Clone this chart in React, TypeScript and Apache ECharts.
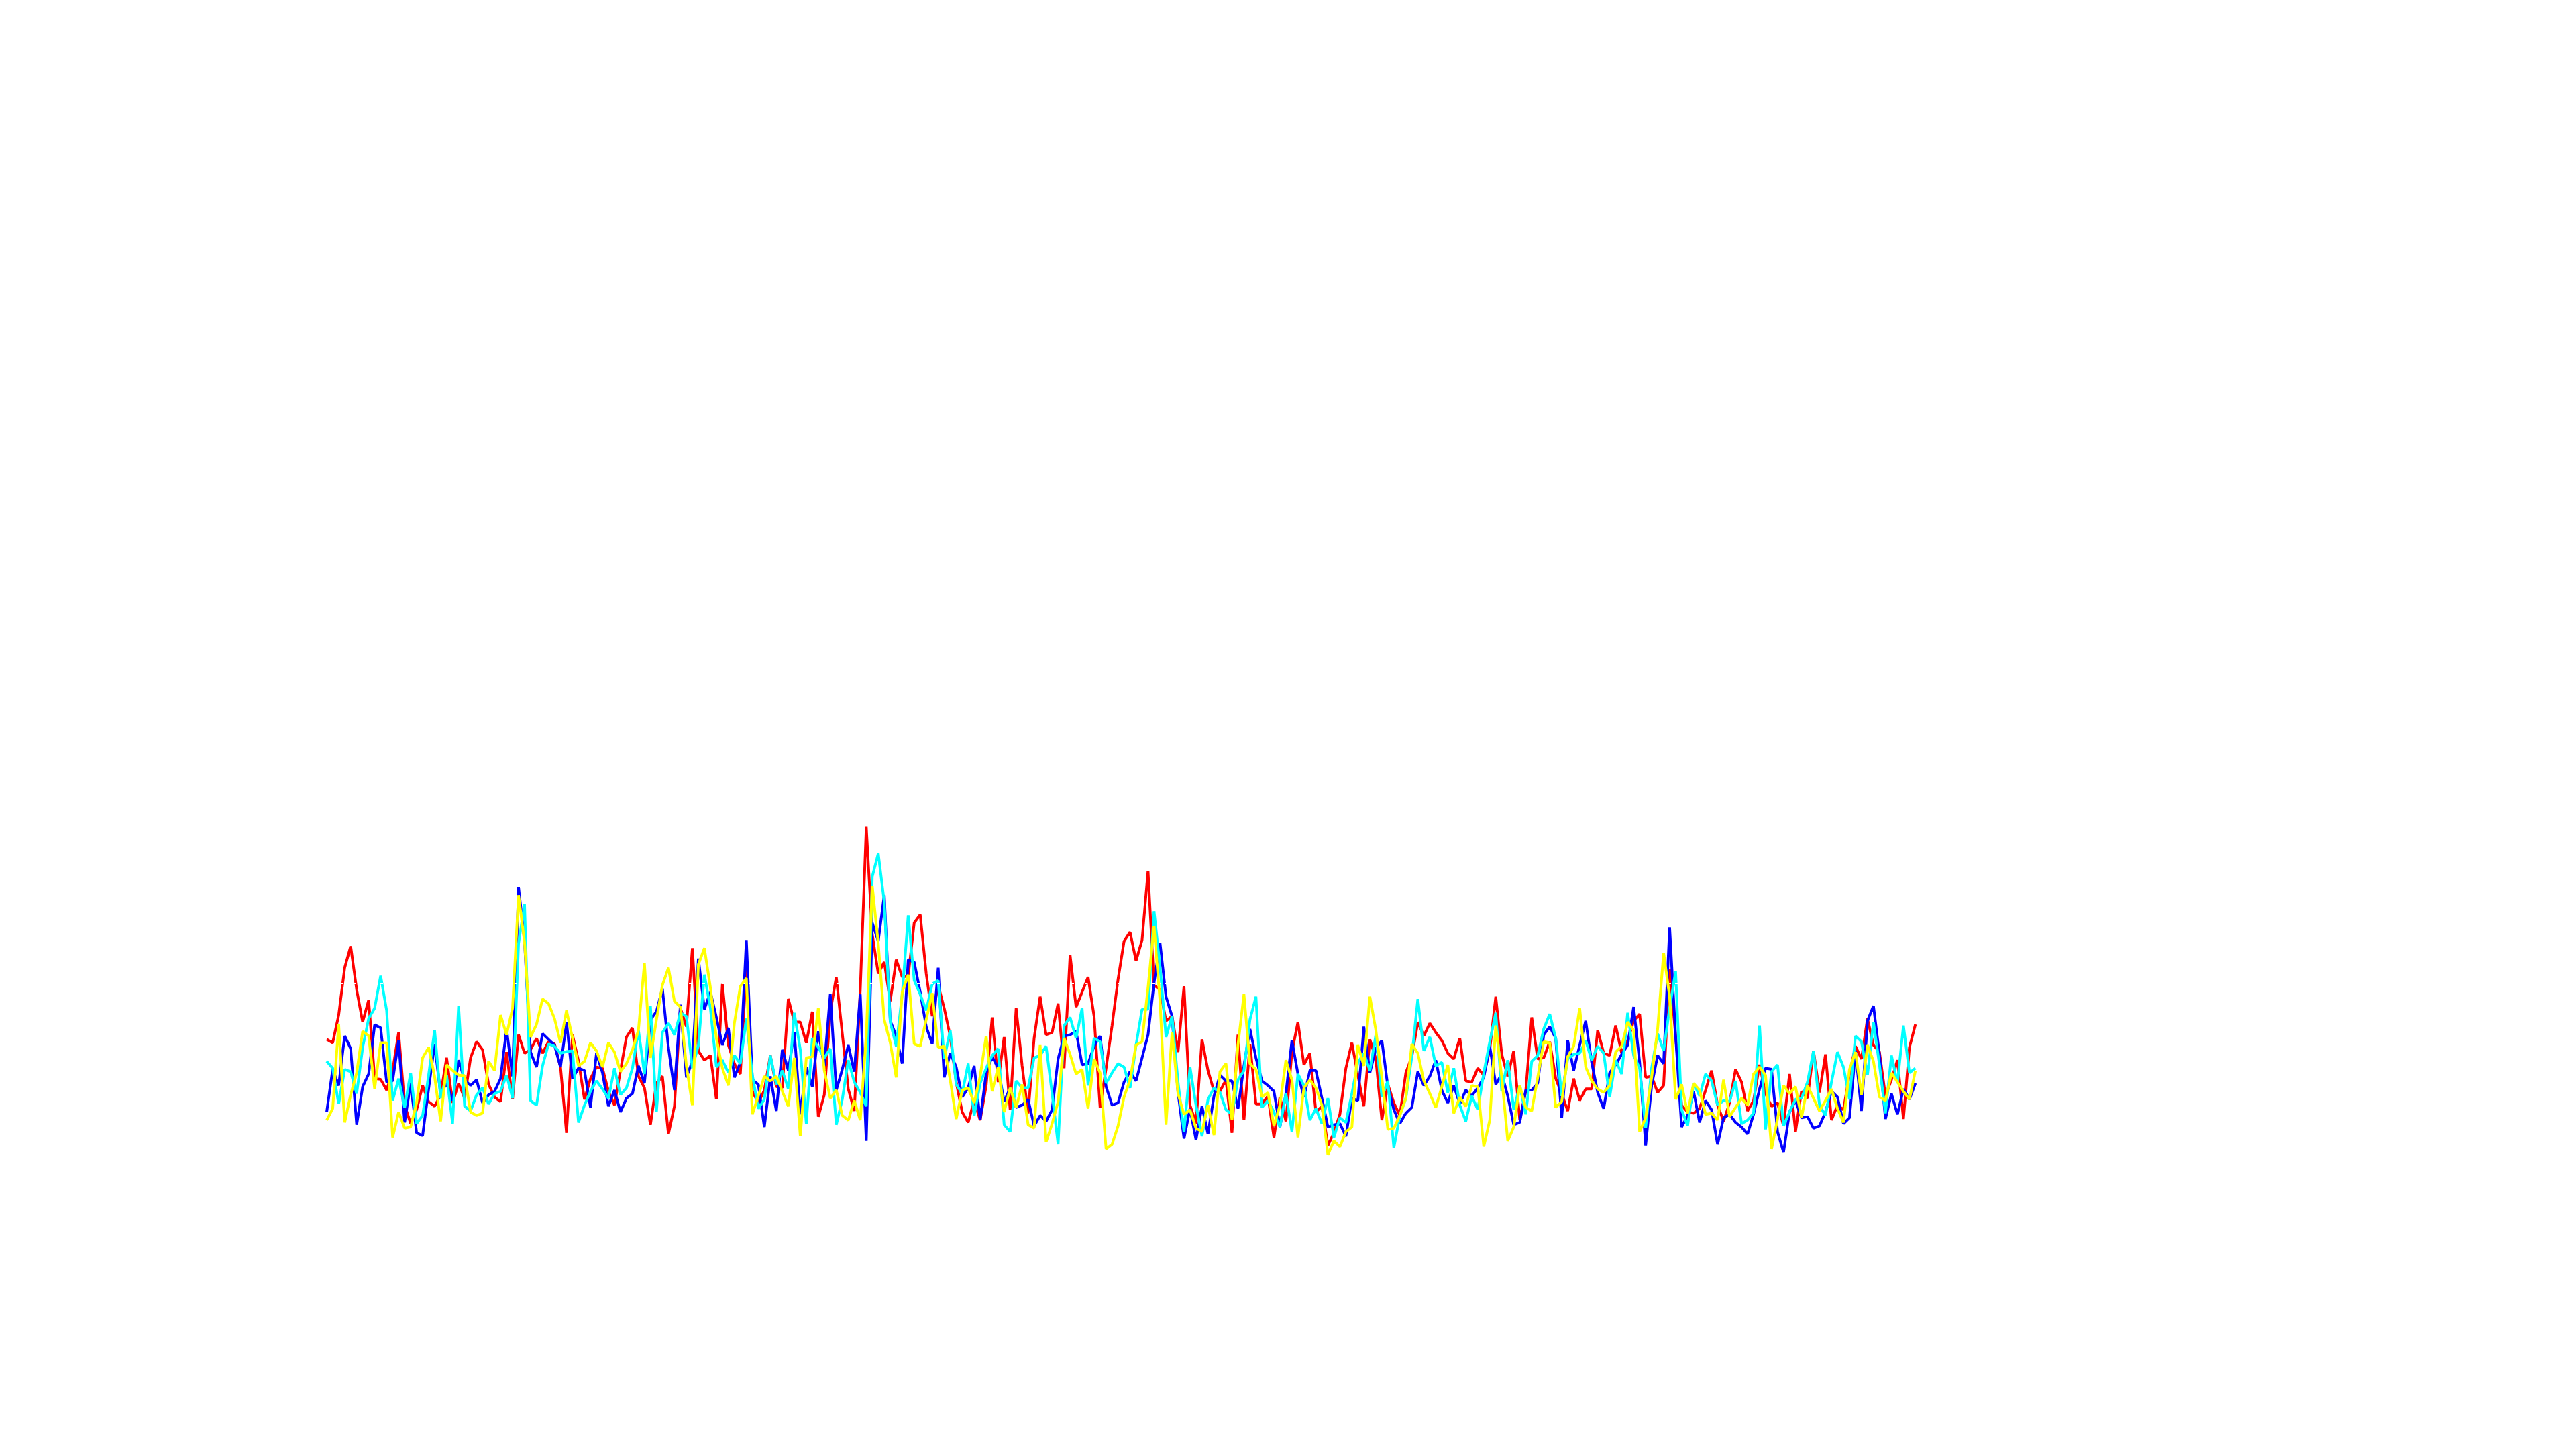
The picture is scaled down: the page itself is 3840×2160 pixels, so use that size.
import React, { useEffect, useRef } from "react";
import * as echarts from "echarts";

const red = [63.5,62,74,94.5,103.8,85,71,80.5,46.5,46.2,
41.5,50,66.5,35,27,33,43.5,36.5,34.5,39.5,
55.5,36,44.5,38,55.5,62.5,59,44,38.5,36.5,
58,37.5,65.5,57.5,59,64,57.5,62.5,61.5,51.5,
23,65.5,54,37.5,46.5,51.5,51,41,35,50,
64.5,68.5,47.5,42.5,26.5,44.5,47.5,22.5,34.5,77,
69,103,58.5,54.5,56.5,37.5,87.5,61,53,48.5,
95,41,36,41.5,56.5,43,42.5,81,71,71,
62,75.5,30,39.5,75.5,90.5,66,42,32.5,85,
155.5,109,92,97,80,98,90.5,91,114,117.5,
92,73.5,87,77,65,45,32,27.5,37,28.5,
43.5,73,45,64.5,33,77,52,31.5,64,82,
65.5,66.5,79,51,100,77.5,84,90.5,73.5,34,
51,69.5,89.5,106,110,97.5,106.5,136.5,87,85,
71.5,73.5,58,86.5,35,27,63.5,50,41,41,
46,23,65.5,28.5,61.5,35.5,35.5,39,21,38.5,
28,58,71,52.5,57.5,32,34.5,17.5,23,31,
51,62,48,34.5,63.5,55,28.5,44,36,30.5,
49,56,71,65,70.5,66.5,63,57.5,55,64,
45.5,45,51,48,59,82,57,47.5,58.5,28.5,
41,73,55,55.5,62.5,46.5,40,32.5,46.5,37,
42,42,67.5,57.5,56.5,69.5,57.5,63,71.5,74.5,
47,47.5,40.5,43.5,94,65,35,32,31.5,33.5,
41.5,50,35,28,36,50.5,45,32.5,37,52.5,
40,34.5,36,26,48.5,23.5,41,38,58.5,40.5,
57,28.5,35,33,48.5,60.5,55,72.5,61,58,
39,46,54.5,29,60,70];

const blue = [32,50.5,43.5,65,59.5,26.5,43,48.5,69.8,68.5,
45,45.5,63,27.5,44.5,23,21.8,42,61.5,40,
44.5,37,54.5,46,43.5,46,36,39.5,41,46.5,
68,47.5,129.5,106,58,51.5,66,63.5,61,51.5,
71,46.5,51,50,34,57.5,49,34.5,41.5,32,
38,40,52,44.5,72,75.5,85.5,60,41.5,78.5,
47,54,98.5,76.5,84,73,61,68.5,47,53.5,
106.5,46,44,25.5,47.5,32.5,59,50,66.5,31,
51.5,43,67,52,83,41.5,50.5,61,49.5,83,
19.5,114,106,126,71.5,65,53,98,97,84,
69,61.5,94.5,47,57.5,51.5,38.5,42.5,52,28.5,
49,56,51,36.5,42.5,34,35,37.5,26,30.5,
28,33,55,65,65.5,67,52.5,53,60.5,65,
43,35,36,45,49.5,45.5,55.5,65.5,88,105.2,
82,73.5,40.5,20.5,33.5,20,34.5,22.5,39,48,
45.5,45.5,33.5,52,68,55.5,45.5,43.5,41,25.5,
40,63,48.5,38.5,50,50,38,25.5,26.5,27,
21.5,38,37,69,49,59.5,63,43,33,27,
31.5,34,49.5,43.5,47.5,54.5,41.5,36,43.5,35.5,
41.5,39,42.5,47,60.5,44,48.5,39,26.5,27.5,
41.5,41.5,44.5,65.5,69,64,29.5,63,50,61,
71.5,53.5,40.5,33.5,49,52.5,57,61,77.5,53.5,
17.5,43.5,56.5,53,112,65,25.5,30.5,41,27.5,
37,33,18,29.5,31,27.5,25.5,22.5,31,42,
51,50.5,23.5,14.5,32,37,29.5,30,25,26,
32,41,38.5,27,29.5,58.5,32.5,71.5,78,57,
29,40,31,42,37.5,44.5];

const cyan = [54,51,35.5,50.5,49.5,40,60,72.5,77,91,
76,37,46.5,34,49,27,30.5,48,67.5,38,
48,27,78,34.5,32.5,39.5,42.5,35.5,40,41,
48,38,105,122,37,35,52,61.5,60.5,57.5,
58.2,58.5,27.5,35,41,45.5,42,38,51,39.5,
42.5,51,67.5,48.5,78,32,66.5,70.5,65.5,75,
73.5,51,61,91.5,77,51.5,54.5,49,56.5,53,
72.5,48,33.5,37.5,56.5,44,50,42,75,59,
27,64,60,55.5,59.5,26.5,37.5,54.5,45,40.5,
34.5,134,144,123,71,60.5,83,117.2,89,83,
76,87.5,89,55,67.5,44,40,53,30.5,44.5,
51,56.5,59.5,26.5,23.5,45.5,42.5,42.5,55.5,56.5,
60.5,40,18,69.5,73,64,77,43.5,64,62.5,
44.5,49,53,51.5,42.5,61,76.5,76.5,119,95,
64.5,73.5,45,23.5,51.5,35,21.5,37.5,42.5,40.5,
33,31,46,50,72,82,34,37,32,25.5,
40,23.5,48.5,43.5,28.5,33.5,27,38,21,29.5,
27.5,40,53.5,57.5,50,65.5,38.5,45.5,16.5,30.5,
38,56,81,58.5,64.5,52,53.5,40.5,51,35,
28,39,33,49,62.5,75,41,54.5,33,43.5,
31,54,56.5,68,74.5,64,39,55,57,57.5,
63,54.5,60.5,57.5,38.5,54.5,48.5,75,56.5,51,
25,51,66,58.5,77,93,33,26,44.5,39,
48.5,45.5,35,37,36.5,45.5,27,28.5,31.5,69.5,
24.5,49.5,52.5,26,32,37.5,38,45,58.5,35,
30.5,45,58,51.5,37.5,65,62.5,48,71,52.5,
31.5,56.5,44.5,69.5,49,51];

const yellow = [28.5,33.5,70,27.5,39.5,49,67,65,42,62,
62,21,32,25,25.5,36,55.5,60,47.5,28,
52.5,50,48,47.8,32,30.5,31.5,54,50,74,
65.5,77,126,105.5,64.5,70,81,79,72.5,62,
76,64,52,54,62,58.5,51.5,62,58,49.5,
53,59,67.5,96.5,55.5,72,87,94.5,80,77.5,
52,35,96,103,86,64,51,43.5,70.5,86.5,
90,31,39,47.5,45.5,47.5,41,34.5,55.5,21.5,
55.5,56,77,50,38,41.5,30.5,28.5,37,28.5,
65,130,105,72,62,47,84,91.5,61.5,60.5,
72,83.5,60,60.5,46,29,41.5,42.5,36,47.5,
65,41,51.5,32,42.5,34,44,26.5,25,61,
19,27,36.5,64,57,48.5,50.5,33.5,55,49,
16,18,26,38.5,46,61,62.5,86,112.5,80,
26.5,66.5,40,31,33,25,23.5,35,22,49.5,
53,28.5,61,83,53,50.5,38.5,40.5,26,35,
54.5,46,21,42.5,46,42.5,35,13.5,19.5,17,
23.5,25.5,61,52,82,67.5,47,24.5,25,30.5,
38,61.5,57.5,45.5,40,34,43,52.5,31.5,38.5,
34.5,43.5,43,17,28.5,69.5,47,19.5,25.5,43.5,
34,32.5,47,62.5,62,34,36.5,56,60.5,77,
51.5,45.5,42,40.5,43.5,58,60.5,71,67.5,23.5,
29.5,47,68,101,82,37.5,44,31.5,44.5,41.5,
31,31.5,28.5,46,30,34,38,35,48.5,51.5,
48,16,29,43.5,40,43,29.5,43.5,38,32.5,
37,42,33.5,27.5,50.5,58,39.5,61,54,38.5,
37,49,45,41,37.5,50];

const categories = red.map((_, i) => String(i + 1));
const referenceLevel = 87.5;

const seriesDefs = [
  { name: "S1", data: red, color: "#ff0000" },
  { name: "S2", data: blue, color: "#0000ff" },
  { name: "S3", data: cyan, color: "#00ffff" },
  { name: "S4", data: yellow, color: "#ffff00" },
];

export default function App() {
  const ref = useRef<HTMLDivElement>(null);
  useEffect(() => {
    if (!ref.current) return;
    const chart = echarts.init(ref.current, null, { renderer: "svg" });
    chart.setOption({
      animation: false,
      backgroundColor: "#ffffff",
      grid: { left: 487, top: 1200, width: 2368.3, height: 567.9, containLabel: false },
      xAxis: { type: "category", data: categories, boundaryGap: false, show: false },
      yAxis: { type: "value", min: 0, max: 165, show: false },
      series: seriesDefs.map((s, idx) => ({
        name: s.name,
        type: "line",
        data: s.data,
        symbol: "none",
        showSymbol: false,
        lineStyle: { width: 4, color: s.color },
        itemStyle: { color: s.color },
        z: 2 + idx,
        markLine:
          idx === seriesDefs.length - 1
            ? {
                silent: true,
                symbol: "none",
                label: { show: false },
                lineStyle: { color: "#ffffff", type: [4, 6], width: 1 },
                data: [{ yAxis: referenceLevel }],
              }
            : undefined,
      })),
    });
    return () => chart.dispose();
  }, []);
  return (
    <div
      ref={ref}
      style={{ position: "fixed", left: 0, top: 0, width: 3840, height: 2160 }}
    />
  );
}
